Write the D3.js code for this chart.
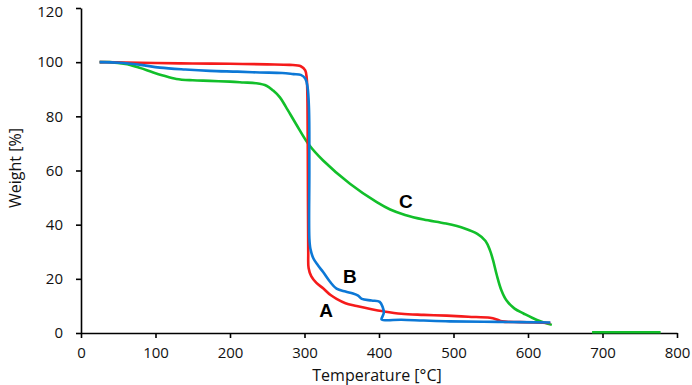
<!DOCTYPE html>
<html>
<head>
<meta charset="utf-8">
<script src="https://cdn.jsdelivr.net/npm/d3@7"></script>
<style>
  body { margin: 0; background: #fff; }
  svg { display: block; }
  .axis path, .axis line { stroke: #000; stroke-width: 1.6; }
  .axis text { font-family: "Open Sans", sans-serif; font-size: 15px; fill: #111; }
</style>
</head>
<body>
<div id="chart"></div>
<script>
// Sample A (red)
const tempA   = [25, 60, 100, 150, 200, 250, 280, 295, 301, 303, 304, 304.5, 305, 305.5, 309, 316, 325, 335, 343, 355, 370, 390, 406, 430, 460, 491, 520, 549, 558, 565, 590, 630];
const weightA = [100, 99.9, 99.7, 99.5, 99.4, 99.2, 99, 98.5, 97, 94, 85, 60, 30, 24, 21, 18.5, 16.5, 14, 12.6, 11, 10, 8.8, 8, 7.1, 6.7, 6.4, 6, 5.6, 5, 4.3, 4, 3.7];

// Sample B (blue)
const tempB   = [25, 52, 80, 106, 140, 173, 210, 240, 270, 285, 295, 301, 304, 306, 306.5, 306.5, 308, 312, 318, 325, 334, 343, 355, 365, 372, 377, 390, 401, 405, 406.5, 404.5, 403.5, 430, 460, 495, 560, 630];
const weightB = [100, 99.8, 99, 98, 97.3, 96.8, 96.5, 96.2, 96, 95.6, 95.3, 94, 91, 83, 60, 35, 31, 27.5, 25, 22.5, 19, 16.4, 15.3, 14.6, 13.8, 12.6, 12, 11.5, 9.5, 7.5, 6, 5, 4.9, 4.6, 4.3, 4.1, 3.9];

// Sample C (green)
const tempC   = [25, 39, 55, 66, 80, 97, 110, 128, 150, 173, 200, 218, 235, 249, 258, 267, 275, 289, 306, 325, 361, 397, 415, 435, 460, 490, 515, 532, 543, 549, 553, 558, 564, 571, 582, 594, 612, 632];
const weightC = [100, 100, 99.5, 99, 97.8, 96.2, 95.1, 93.8, 93.3, 93.1, 92.8, 92.5, 92.2, 91.3, 89.5, 87, 83.5, 77, 69.5, 63.7, 55.1, 48.3, 45.6, 43.6, 41.9, 40.4, 38.6, 36.6, 34, 30.5, 27, 21.5, 16, 12.1, 9, 7.2, 4.8, 3.0];
// stray green segment near the baseline
const tempC2   = [686, 778];
const weightC2 = [0.3, 0.3];

const xTicks = [0, 100, 200, 300, 400, 500, 600, 700, 800];
const yTicks = [0, 20, 40, 60, 80, 100, 120];

const curveLabels = ['A', 'B', 'C'];
const labelTemp   = [329, 361, 436];
const labelWeight = [8.5, 21, 48.8];

const W = 692, H = 385;
const margin = { top: 8, right: 15, bottom: 52, left: 81 };
const width = W - margin.left - margin.right;
const height = H - margin.top - margin.bottom;

const svg = d3.select('#chart').append('svg')
    .attr('width', W)
    .attr('height', H);

const g = svg.append('g')
    .attr('transform', `translate(${margin.left},${margin.top})`);

const x = d3.scaleLinear().domain([0, 800]).range([0, width]);
const y = d3.scaleLinear().domain([0, 120]).range([height, 0]);

// axes
g.append('g')
    .attr('class', 'axis')
    .attr('transform', `translate(0,${height})`)
    .call(d3.axisBottom(x).tickValues(xTicks).tickSize(5).tickSizeOuter(0).tickPadding(6))
    .call(a => a.selectAll('text').attr('dy', '0.95em'));

g.append('g')
    .attr('class', 'axis')
    .call(d3.axisLeft(y).tickValues(yTicks).tickSize(5).tickSizeOuter(0).tickPadding(13))
    // keep the top label inside the page
    .call(a => a.selectAll('text').filter(d => d === 120).attr('dy', '0.54em'));

// axis titles
svg.append('text')
    .attr('x', margin.left + x(400) - 2)
    .attr('y', 381)
    .attr('text-anchor', 'middle')
    .style('font-family', '"Open Sans", sans-serif')
    .style('font-size', '16px')
    .style('fill', '#111')
    .text('Temperature [°C]');

svg.append('text')
    .attr('transform', 'rotate(-90)')
    .attr('x', -168)
    .attr('y', 21)
    .attr('text-anchor', 'middle')
    .style('font-family', '"Open Sans", sans-serif')
    .style('font-size', '16px')
    .style('fill', '#111')
    .text('Weight [%]');

// curves
const line = d3.line()
    .x(d => x(d[0]))
    .y(d => y(d[1]))
    .curve(d3.curveCatmullRom.alpha(0.5));

const series = [
    { t: tempC, w: weightC, color: '#12bf2a' },
    { t: tempC2, w: weightC2, color: '#12bf2a' },
    { t: tempA, w: weightA, color: '#f51b1b' },
    { t: tempB, w: weightB, color: '#0c78d6' }
];

series.forEach(s => {
    g.append('path')
        .datum(d3.zip(s.t, s.w))
        .attr('fill', 'none')
        .attr('stroke', s.color)
        .attr('stroke-width', 2.6)
        .attr('stroke-linejoin', 'round')
        .attr('d', line);
});

// curve labels
curveLabels.forEach((lab, i) => {
    g.append('text')
        .attr('x', x(labelTemp[i]))
        .attr('y', y(labelWeight[i]))
        .attr('text-anchor', 'middle')
        .attr('dy', '0.36em')
        .style('font-family', '"Liberation Sans", Arial, sans-serif')
        .style('font-weight', 'bold')
        .style('font-size', '19px')
        .style('fill', '#000')
        .text(lab);
});
</script>
</body>
</html>
